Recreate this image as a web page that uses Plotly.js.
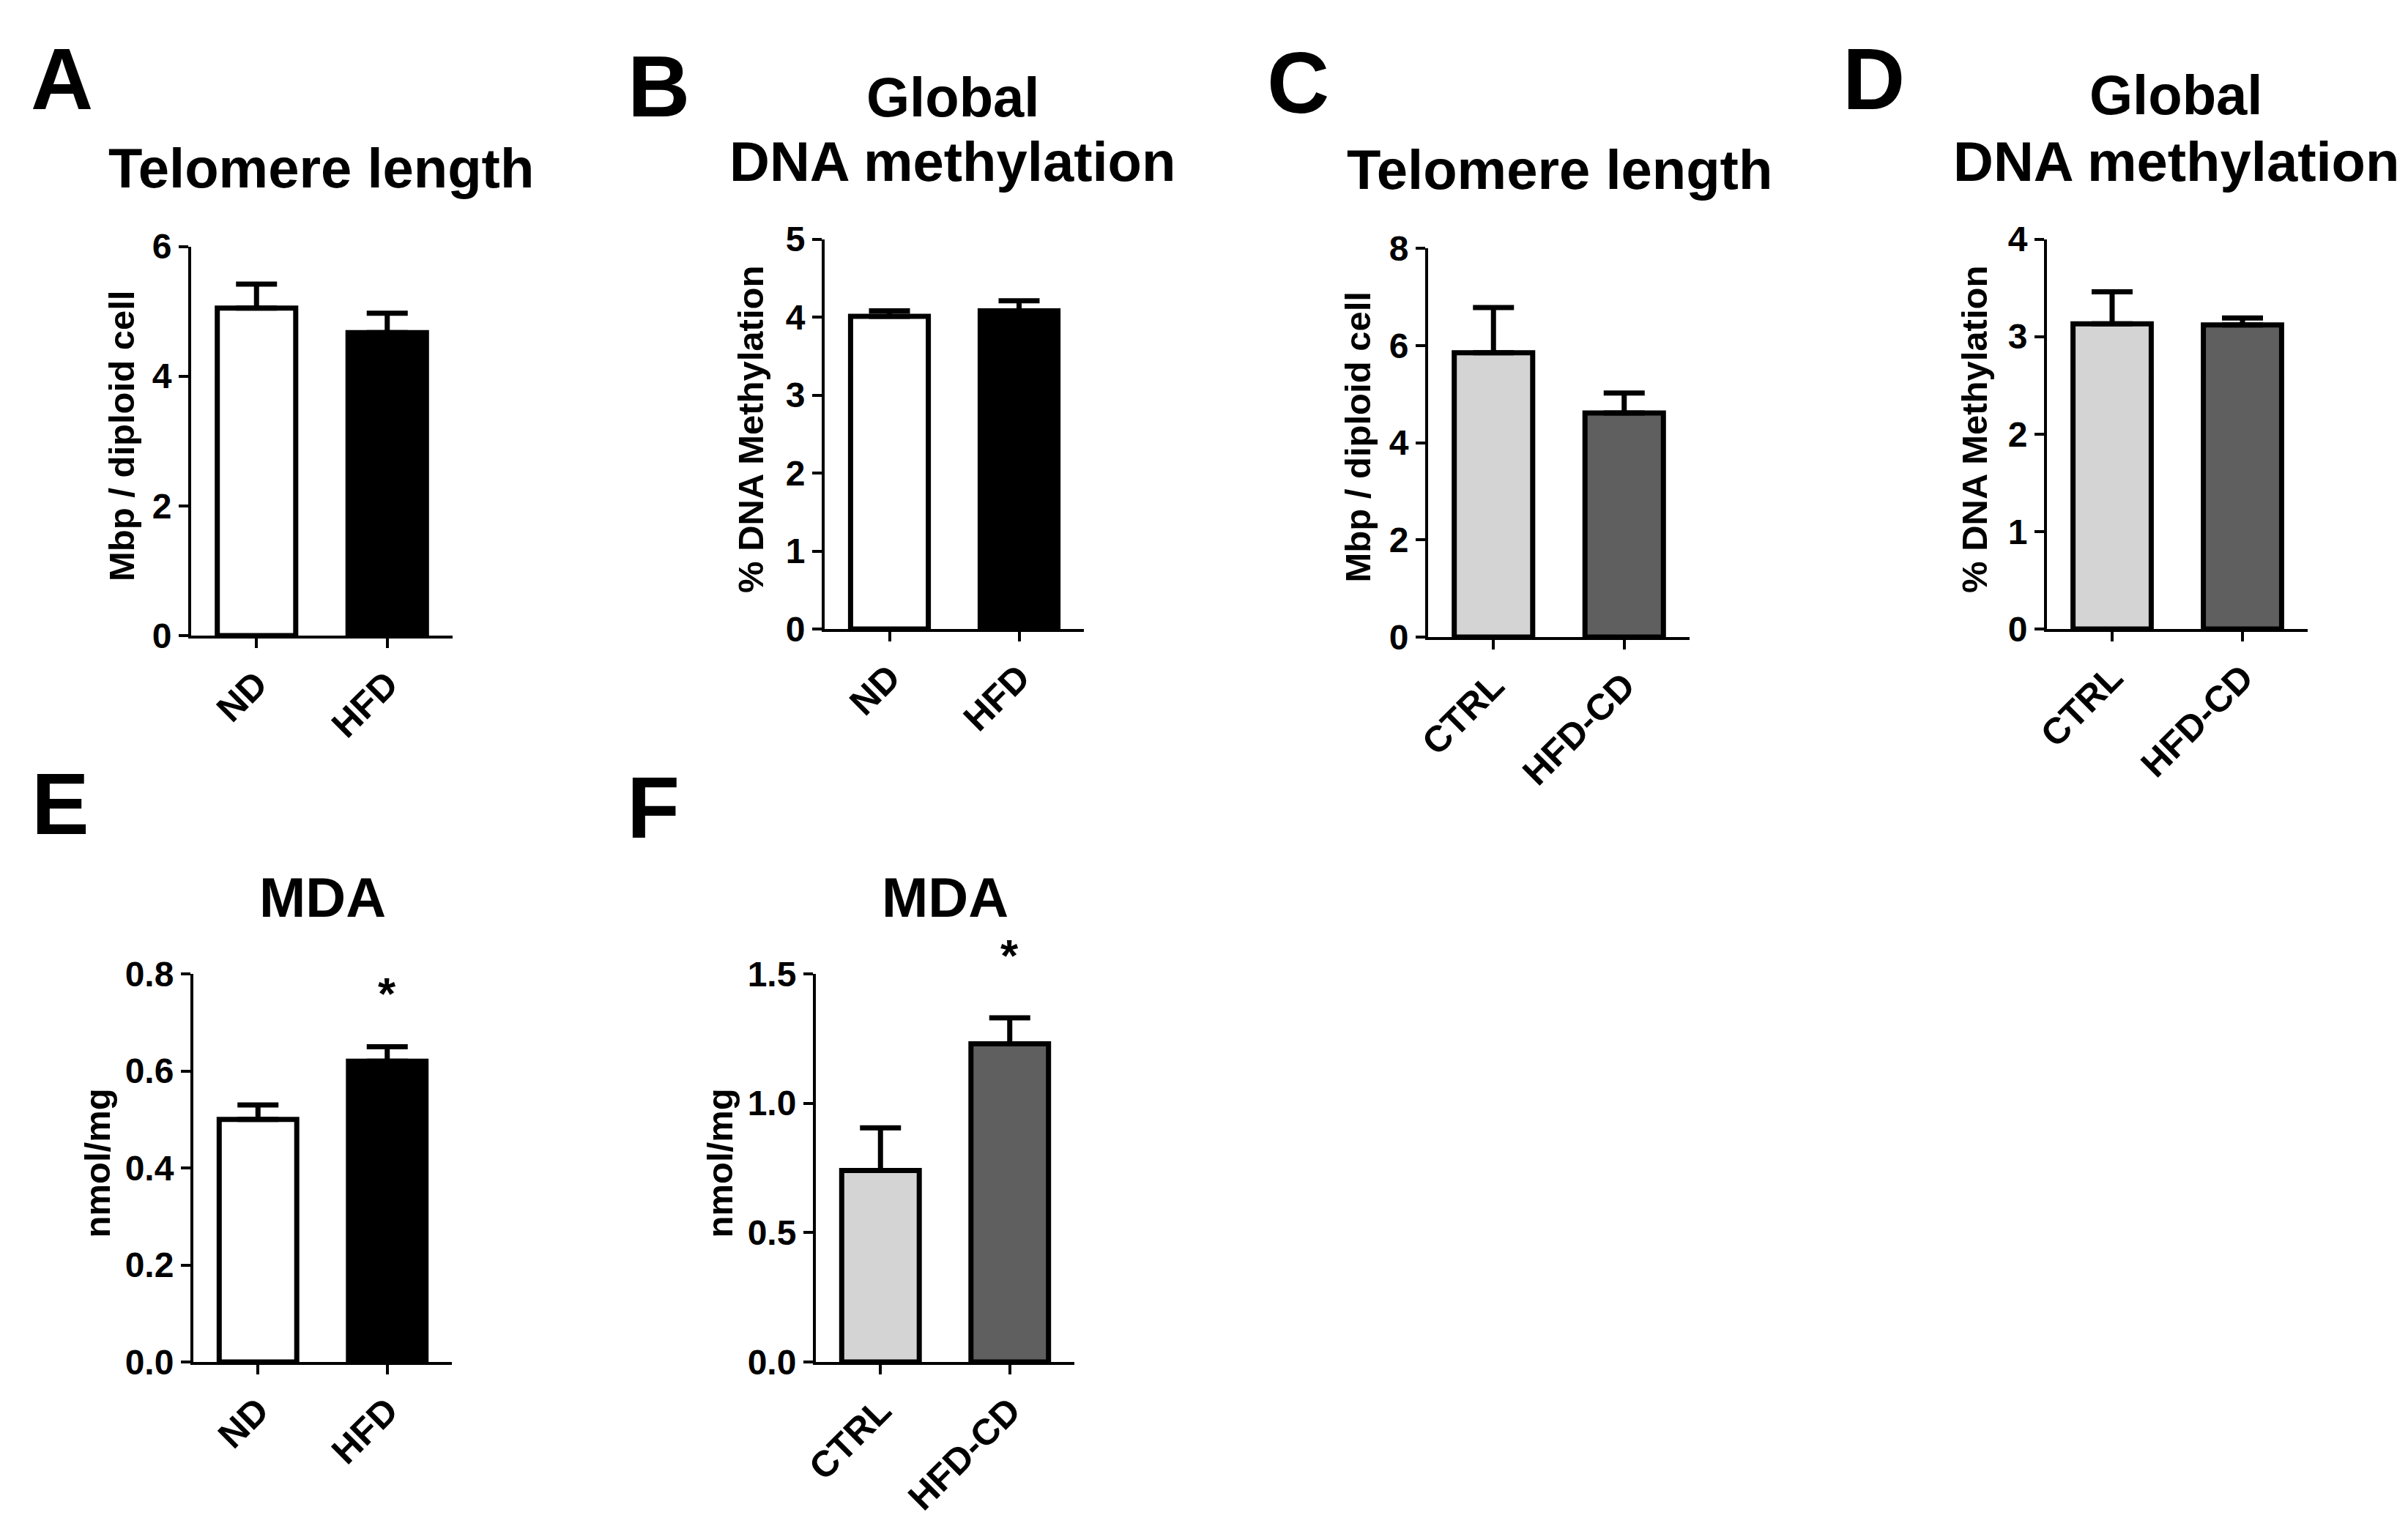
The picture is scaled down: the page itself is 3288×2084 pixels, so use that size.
<!DOCTYPE html>
<html>
<head>
<meta charset="utf-8">
<script src="https://cdn.plot.ly/plotly-3.0.1.min.js"></script>
<style>html,body{margin:0;padding:0;background:#fff;}#chart{width:3288px;height:2084px;}</style>
</head>
<body>
<div id="chart"></div>
<script>
// ---------- data ----------
const groupsDiet = ['ND', 'HFD'];
const groupsCD = ['CTRL', 'HFD-CD'];

const telomereDiet = [5.05, 4.67];
const telomereDietErr = [0.37, 0.30];

const methylDiet = [4.01, 4.08];
const methylDietErr = [0.07, 0.13];

const telomereCD = [5.85, 4.61];
const telomereCDErr = [0.93, 0.41];

const methylCD = [3.13, 3.12];
const methylCDErr = [0.33, 0.07];

const mdaDiet = [0.50, 0.62];
const mdaDietErr = [0.03, 0.03];

const mdaCD = [0.74, 1.23];
const mdaCDErr = [0.165, 0.10];

const sigMdaDiet = ['', '*'];
const sigMdaCD = ['', '*'];

const colorsDiet = ['#ffffff', '#000000'];
const colorsCD = ['#d4d4d4', '#5f5f5f'];

const panelLetters = ['A', 'B', 'C', 'D', 'E', 'F'];
const panelTitles = [['Telomere length'], ['Global', 'DNA methylation'], ['Telomere length'], ['Global', 'DNA methylation'], ['MDA'], ['MDA']];
const yTitles = ['Mbp / diploid cell', '% DNA Methylation', 'Mbp / diploid cell', '% DNA Methylation', 'nmol/mg', 'nmol/mg'];
const yMax = [6, 5, 8, 4, 0.8, 1.5];
const yStep = [2, 1, 2, 1, 0.2, 0.5];
const yFormat = ['', '', '', '', '.1f', '.1f'];

// ---------- layout helpers (pixel geometry) ----------
const W = 3288, H = 2084;
const px = x => x / W;
const py = y => 1 - y / H;
const FONT = 'Liberation Sans, Arial, Helvetica, sans-serif';

// plot areas [x0, x1, yTop, yBottom] in pixels
const areas = [
  [261, 618, 336.5, 868],
  [1126, 1480, 326.5, 859],
  [1950, 2307, 339, 870],
  [2795, 3151, 326.5, 859],
  [264, 617, 1330, 1860],
  [1114, 1467, 1330, 1860]
];
const letterPos = [[84.5, 107.5], [899.5, 118.5], [1772.5, 113.5], [2558, 107.5], [82.5, 1098], [891.5, 1103]];
const titlePos = [
  [[438.5, 230]],
  [[1300.5, 133], [1300.5, 220]],
  [[2129, 232]],
  [[2971, 130], [2971, 220]],
  [[440, 1225]],
  [[1290, 1225]]
];
const yTitlePos = [[165.5, 595.5], [1025, 587], [1853, 597.5], [2696, 587], [132, 1588.5], [982, 1588.5]];
// pixel lift of the significance mark above the top of its error bar
const sigLift = [0, 0, 0, 0, 73, 86];

const panels = [
  {cats: groupsDiet, vals: telomereDiet, err: telomereDietErr, colors: colorsDiet},
  {cats: groupsDiet, vals: methylDiet, err: methylDietErr, colors: colorsDiet},
  {cats: groupsCD, vals: telomereCD, err: telomereCDErr, colors: colorsCD},
  {cats: groupsCD, vals: methylCD, err: methylCDErr, colors: colorsCD},
  {cats: groupsDiet, vals: mdaDiet, err: mdaDietErr, colors: colorsDiet, sig: sigMdaDiet},
  {cats: groupsCD, vals: mdaCD, err: mdaCDErr, colors: colorsCD, sig: sigMdaCD}
];

const traces = [];
const layout = {
  width: W, height: H,
  margin: {l: 0, r: 0, t: 0, b: 0},
  paper_bgcolor: '#ffffff', plot_bgcolor: 'rgba(0,0,0,0)',
  showlegend: false,
  annotations: []
};

panels.forEach((p, i) => {
  const n = i + 1;
  const xs = n === 1 ? 'x' : 'x' + n;
  const ys = n === 1 ? 'y' : 'y' + n;
  traces.push({
    type: 'bar',
    x: p.cats, y: p.vals,
    xaxis: xs, yaxis: ys,
    width: 0.6,
    marker: {color: p.colors, line: {color: '#000000', width: 7}},
    error_y: {type: 'data', symmetric: false, array: p.err, arrayminus: p.cats.map(() => 0),
              color: '#000000', thickness: 7, width: 28},
    hoverinfo: 'x+y'
  });
  const a = areas[i];
  layout['xaxis' + (n === 1 ? '' : n)] = {
    domain: [px(a[0]), px(a[1])], anchor: ys, type: 'category',
    range: [-0.5, 1.5], fixedrange: true,
    showline: true, linecolor: '#000000', linewidth: 4,
    ticks: 'outside', ticklen: 13, tickwidth: 4, tickcolor: '#000000',
    tickangle: -45, showgrid: false, zeroline: false,
    tickfont: {family: FONT, size: 50, color: '#000000', weight: 700}
  };
  layout['yaxis' + (n === 1 ? '' : n)] = {
    domain: [py(a[3]), py(a[2])], anchor: xs,
    range: [0, yMax[i]], dtick: yStep[i], tick0: 0, tickformat: yFormat[i], fixedrange: true,
    showline: true, linecolor: '#000000', linewidth: 4,
    ticks: 'outside', ticklen: 13, tickwidth: 4, tickcolor: '#000000',
    showgrid: false, zeroline: false,
    tickfont: {family: FONT, size: 48, color: '#000000', weight: 700}
  };
  // panel letter
  layout.annotations.push({
    xref: 'paper', yref: 'paper', x: px(letterPos[i][0]), y: py(letterPos[i][1]),
    xanchor: 'center', yanchor: 'middle', showarrow: false, text: panelLetters[i],
    font: {family: FONT, size: 118, color: '#000000', weight: 700}
  });
  // title lines
  panelTitles[i].forEach((t, k) => {
    layout.annotations.push({
      xref: 'paper', yref: 'paper', x: px(titlePos[i][k][0]), y: py(titlePos[i][k][1]),
      xanchor: 'center', yanchor: 'middle', showarrow: false, text: t,
      font: {family: FONT, size: 76, color: '#000000', weight: 700}
    });
  });
  // y title
  layout.annotations.push({
    xref: 'paper', yref: 'paper', x: px(yTitlePos[i][0]), y: py(yTitlePos[i][1]),
    xanchor: 'center', yanchor: 'middle', showarrow: false, text: yTitles[i], textangle: -90,
    font: {family: FONT, size: 49, color: '#000000', weight: 700}
  });
  // significance marks, anchored at the top of the error bar
  if (p.sig) {
    p.sig.forEach((s, k) => {
      if (!s) return;
      layout.annotations.push({
        xref: xs, yref: ys, x: p.cats[k], y: p.vals[k] + p.err[k],
        xanchor: 'center', yanchor: 'middle', yshift: sigLift[i], showarrow: false, text: s,
        font: {family: FONT, size: 62, color: '#000000', weight: 700}
      });
    });
  }
});

Plotly.newPlot('chart', traces, layout, {displayModeBar: false, staticPlot: true});
</script>
</body>
</html>
